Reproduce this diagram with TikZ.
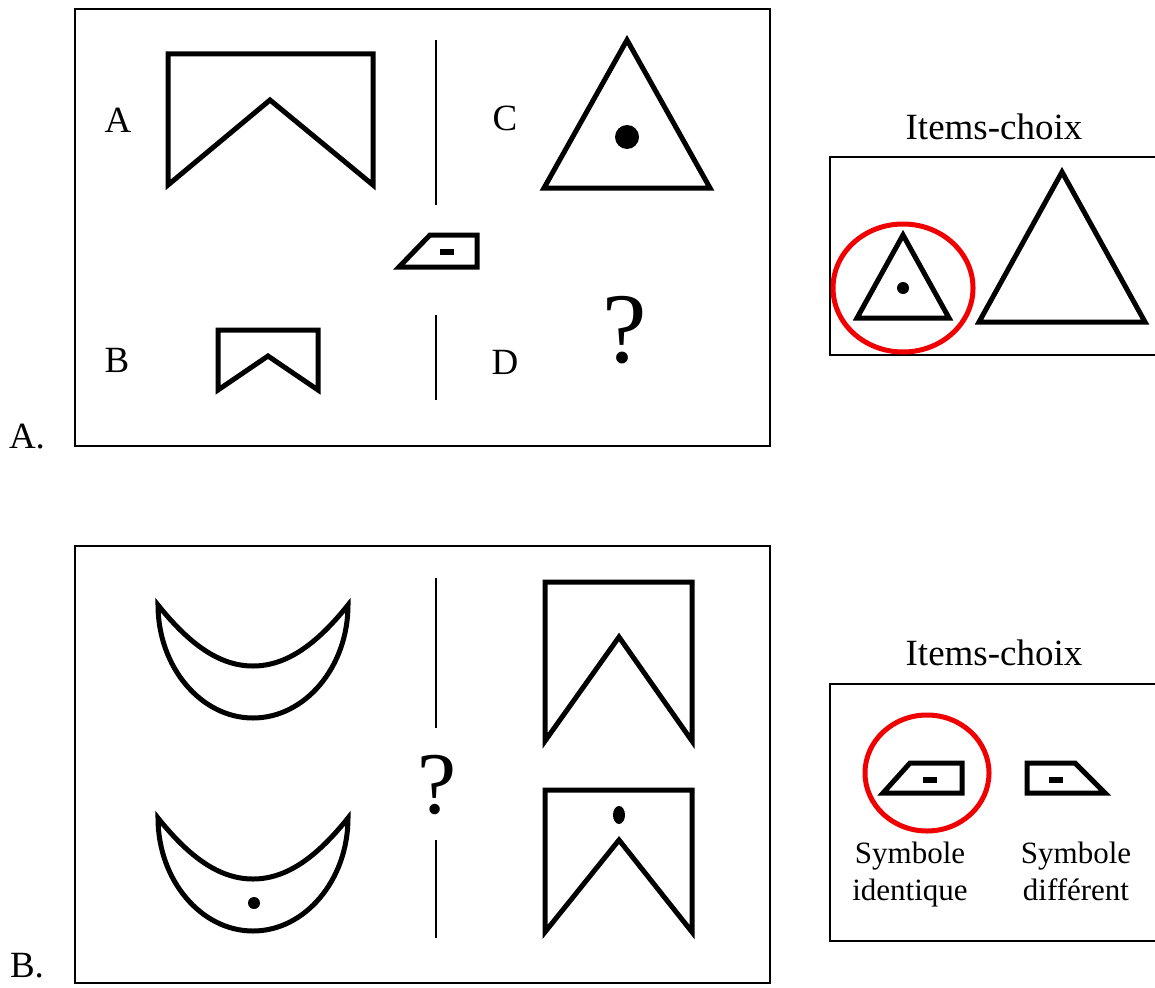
\documentclass[tikz,border=0pt]{standalone}
\usepackage{fontspec}
\setmainfont{Liberation Serif}
\usepackage{xcolor}
\usepackage{tikz}
\definecolor{anInk}{HTML}{000000}
\definecolor{anRed}{HTML}{F00000}
\tikzset{
  an diagram/.style={x=1pt, y=-1pt, line join=miter},
  an frame/.style={draw=anInk, line width=2.5pt},
  an shape/.style={draw=anInk, line width=5pt},
  an rule/.style={draw=anInk, line width=1.5pt},
  an pick/.style={draw=anRed, line width=5pt},
  an label/.style={font=\fontsize{37}{40}\selectfont, text=anInk, inner sep=0pt},
  an small/.style={font=\fontsize{31}{37}\selectfont, text=anInk, align=center,
    inner sep=0pt, anchor=north},
  an query/.style={text=anInk, inner sep=0pt}
}
\begin{document}
\begin{tikzpicture}[an diagram]
\useasboundingbox (0,0) rectangle (1155,987);
\draw[an frame] (75,9) rectangle (770,446);
\draw[an frame] (75,546) rectangle (770,983);
\node[an label] (panelA) at (27,437) {A.};
\node[an label] (panelB) at (27,966) {B.};
\node[an label] (labA) at (118,120) {A};
\node[an label] (labB) at (117,360) {B};
\node[an label] (labC) at (505,118) {C};
\node[an label] (labD) at (505,362) {D};
\draw[an rule] (436,40) -- (436,205);
\draw[an rule] (436,315) -- (436,400);
\draw[an shape] (168,185) -- (168,54) -- (373,54) -- (373,185) -- (270,100) -- cycle;
\draw[an shape] (218,390) -- (218,330) -- (318,330) -- (318,390) -- (268,356) -- cycle;
\draw[an shape] (627,40) -- (710,188) -- (544,188) -- cycle;
\fill[anInk] (627,137) circle (12);
\draw[an shape] (430,235) -- (477,235) -- (477,267) -- (399,267) -- cycle;
\fill[anInk] (440,249) rectangle (454,255);
\node[an query, font=\fontsize{100}{100}\selectfont] (qA) at (625,330) {?};
\node[an label] (itemsA) at (994,127) {Items-choix};
\draw[an frame] (830,157) rectangle (1175,355);
\draw[an pick] (903,288) ellipse (70 and 64);
\draw[an shape] (903,235) -- (949,318) -- (857,318) -- cycle;
\fill[anInk] (903,288) circle (6);
\draw[an shape] (1062,172) -- (1145,322) -- (979,322) -- cycle;
\draw[an rule] (436,578) -- (436,728);
\draw[an rule] (436,840) -- (436,938);
\foreach \yy in {0,213}
  \draw[an shape] (158,605+\yy) .. controls (158,667+\yy) and (201,718+\yy) .. (253,718+\yy)
    .. controls (305,718+\yy) and (348,667+\yy) .. (348,605+\yy)
    .. controls (316,645+\yy) and (286,666+\yy) .. (253,666+\yy)
    .. controls (220,666+\yy) and (190,645+\yy) .. cycle;
\fill[anInk] (254,903) circle (6);
\node[an query, font=\fontsize{88}{88}\selectfont] (qB) at (437,785) {?};
\draw[an shape] (545,741) -- (545,582) -- (692,582) -- (692,741) -- (619,637) -- cycle;
\draw[an shape] (545,932) -- (545,790) -- (692,790) -- (692,932) -- (619,840) -- cycle;
\fill[anInk] (619,815) ellipse (6 and 9);
\node[an label] (itemsB) at (994,653) {Items-choix};
\draw[an frame] (830,684) rectangle (1175,941);
\draw[an pick] (927,773) ellipse (62 and 58);
\draw[an shape] (910,763) -- (962,763) -- (962,793) -- (883,793) -- cycle;
\fill[anInk] (923,777) rectangle (937,783);
\draw[an shape] (1027,763) -- (1075,763) -- (1105,793) -- (1027,793) -- cycle;
\fill[anInk] (1049,777) rectangle (1063,783);
\node[an small] (symSame) at (910,842) {Symbole\\identique};
\node[an small] (symDiff) at (1076,842) {Symbole\\différent};
\end{tikzpicture}
\end{document}
